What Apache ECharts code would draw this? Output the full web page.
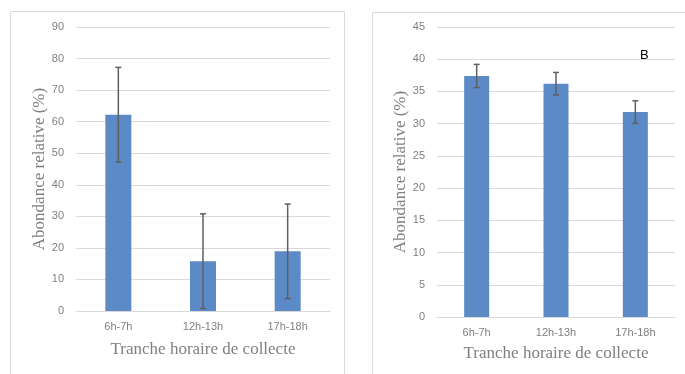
<!DOCTYPE html>
<html><head><meta charset="utf-8">
<script src="https://cdn.jsdelivr.net/npm/echarts@6/dist/echarts.min.js"></script>
<style>html,body{margin:0;padding:0;background:#fff}#c{width:685px;height:374px}</style>
</head><body><div id="c"></div>
<script>
const categories = ['6h-7h', '12h-13h', '17h-18h'];
const valuesA = [62.2, 15.8, 18.9];
const errA = [15, 15, 15];
const valuesB = [37.4, 36.2, 31.8];
const errB = [1.8, 1.75, 1.75];
const yTicksA = {min: 0, max: 90, interval: 10};
const yTicksB = {min: 0, max: 45, interval: 5};

const chart = echarts.init(document.getElementById('c'));
const gridColor = '#d9d9d9';
const labelColor = '#7f7f7f';
const titleFont = {fontFamily: 'Liberation Serif', fontSize: 17, color: '#7f7f7f'};

function errSeries(idx, vals, errs) {
  return {
    type: 'custom', xAxisIndex: idx, yAxisIndex: idx, z: 5,
    data: vals.map((v, i) => [i, v - errs[i], v + errs[i]]),
    renderItem: function (params, api) {
      const lo = api.coord([api.value(0), api.value(1)]);
      const hi = api.coord([api.value(0), api.value(2)]);
      const x = lo[0], hw = 3;
      const st = {stroke: '#5f5f5f', lineWidth: 1.5};
      return {type: 'group', children: [
        {type: 'line', shape: {x1: x, y1: lo[1], x2: x, y2: hi[1]}, style: st},
        {type: 'line', shape: {x1: x - hw, y1: hi[1], x2: x + hw, y2: hi[1]}, style: st},
        {type: 'line', shape: {x1: x - hw, y1: lo[1], x2: x + hw, y2: lo[1]}, style: st}
      ]};
    }
  };
}

function xAx(idx, gap) {
  return {
    type: 'category', gridIndex: idx, data: categories,
    axisLine: {lineStyle: {color: gridColor, width: 1}},
    axisTick: {show: false},
    axisLabel: {color: labelColor, fontSize: 11, fontFamily: 'Liberation Sans', margin: 10},
    name: 'Tranche horaire de collecte', nameLocation: 'middle', nameGap: gap,
    nameTextStyle: titleFont
  };
}
function yAx(idx, t, gap) {
  return {
    type: 'value', gridIndex: idx, min: t.min, max: t.max, interval: t.interval,
    axisLine: {show: false}, axisTick: {show: false},
    splitLine: {lineStyle: {color: gridColor, width: 1}},
    axisLabel: {color: labelColor, fontSize: 11, fontFamily: 'Liberation Sans', margin: 12},
    name: 'Abondance relative (%)', nameLocation: 'middle', nameGap: gap,
    nameTextStyle: titleFont
  };
}

chart.setOption({
  animation: false,
  grid: [
    {left: 76, right: 355, top: 27, bottom: 63},
    {left: 437, right: 10, top: 27, bottom: 57}
  ],
  xAxis: [xAx(0, 30), xAx(1, 28)],
  yAxis: [yAx(0, yTicksA, 26), yAx(1, yTicksB, 26)],
  series: [
    {type: 'bar', xAxisIndex: 0, yAxisIndex: 0, data: valuesA, barWidth: 26,
     itemStyle: {color: '#5b8ac6'}},
    {type: 'bar', xAxisIndex: 1, yAxisIndex: 1, data: valuesB, barWidth: 25,
     itemStyle: {color: '#5b8ac6'}},
    errSeries(0, valuesA, errA),
    errSeries(1, valuesB, errB)
  ],
  graphic: [
    {type: 'rect', shape: {x: 10.5, y: 11.5, width: 334, height: 380}, style: {fill: 'none', stroke: '#d9d9d9', lineWidth: 1}, silent: true},
    {type: 'rect', shape: {x: 372.5, y: 12.5, width: 330, height: 380}, style: {fill: 'none', stroke: '#d9d9d9', lineWidth: 1}, silent: true},
    {type: 'text', x: 640, y: 49, style: {text: 'B', fill: '#000', fontSize: 13, fontFamily: 'Liberation Sans'}}
  ]
});
</script></body></html>
